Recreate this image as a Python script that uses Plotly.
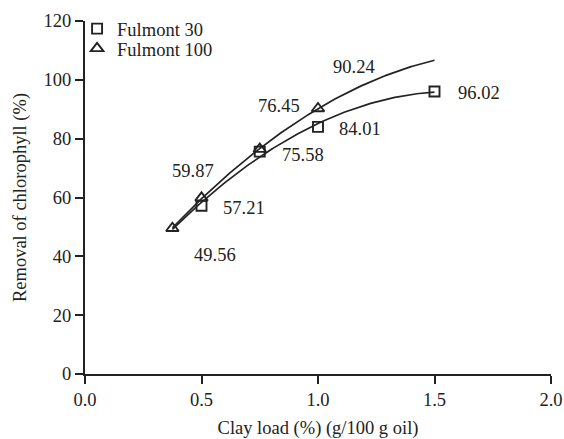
import numpy as np
import plotly.graph_objects as go

# Data
clay_30 = [0.375, 0.5, 0.75, 1.0, 1.5]
removal_30 = [49.56, 57.21, 75.58, 84.01, 96.02]
clay_100 = [0.375, 0.5, 0.75, 1.0]
removal_100 = [49.56, 59.87, 76.45, 90.24]

x_ticks = [0.0, 0.5, 1.0, 1.5, 2.0]
x_tick_labels = ["0.0", "0.5", "1.0", "1.5", "2.0"]
y_ticks = [0, 20, 40, 60, 80, 100, 120]

# value labels (text) and where to place them (data coords)
label_texts = ["96.02", "90.24", "84.01", "76.45", "75.58", "59.87", "57.21", "49.56"]
label_pos = [(1.69, 95.4), (1.155, 104.4), (1.18, 83.3), (0.832, 91.2),
             (0.936, 74.5), (0.464, 69.0), (0.682, 56.5), (0.558, 40.5)]

FONT = "Liberation Serif"
INK = "#222222"
FS = 18.5

# second-order trendlines fitted to the data points
fit_x = np.linspace(0.375, 1.5, 120)
c30 = np.polyfit(clay_30, removal_30, 2)
c100 = np.polyfit(clay_100, removal_100, 2)

fig = go.Figure()
fig.add_trace(go.Scatter(x=fit_x, y=np.polyval(c30, fit_x), mode="lines",
                         line=dict(color=INK, width=1.7), showlegend=False, hoverinfo="skip"))
fig.add_trace(go.Scatter(x=fit_x, y=np.polyval(c100, fit_x), mode="lines",
                         line=dict(color=INK, width=1.7), showlegend=False, hoverinfo="skip"))
# the first Fulmont 30 point coincides with Fulmont 100's and is hidden under it
fig.add_trace(go.Scatter(x=clay_30[1:], y=removal_30[1:], mode="markers", name="Fulmont 30",
                         legend="legend",
                         marker=dict(symbol="square-open", size=10, color=INK,
                                     line=dict(width=1.9, color=INK))))
fig.add_trace(go.Scatter(x=clay_100, y=removal_100, mode="markers", name="Fulmont 100",
                         legend="legend2",
                         marker=dict(symbol="triangle-up-open", size=11, color=INK,
                                     line=dict(width=1.9, color=INK))))

for t, (lx, ly) in zip(label_texts, label_pos):
    fig.add_annotation(x=lx, y=ly, text=t, showarrow=False, xref="x", yref="y",
                       font=dict(family=FONT, size=FS, color=INK))

leg_common = dict(xanchor="left", yanchor="top", bgcolor="rgba(0,0,0,0)",
                  font=dict(family=FONT, size=FS, color=INK), itemwidth=30)
fig.update_layout(
    width=564, height=439,
    margin=dict(l=85, r=13, t=21, b=65, autoexpand=False),
    paper_bgcolor="white", plot_bgcolor="white",
    font=dict(family=FONT, size=FS, color=INK),
    showlegend=True,
    legend=dict(x=-0.017, y=1.031, **leg_common),
    legend2=dict(x=-0.017, y=0.975, **leg_common),
)
fig.update_xaxes(range=[0, 2], tickvals=x_ticks, ticktext=x_tick_labels, automargin=False,
                 showline=True, linecolor=INK, linewidth=2, ticks="outside",
                 ticklen=8, tickwidth=2, tickcolor=INK, showgrid=False, zeroline=False,
                 title=dict(text="Clay load (%) (g/100 g oil)", standoff=14,
                            font=dict(family=FONT, size=FS, color=INK)))
fig.update_yaxes(range=[0, 120], tickvals=y_ticks, automargin=False,
                 showline=True, linecolor=INK, linewidth=2, ticks="outside",
                 ticklen=8, tickwidth=2, tickcolor=INK, showgrid=False, zeroline=False,
                 title=dict(text="Removal of chlorophyll (%)", standoff=12,
                            font=dict(family=FONT, size=FS, color=INK)))

fig.write_html("out.html")
